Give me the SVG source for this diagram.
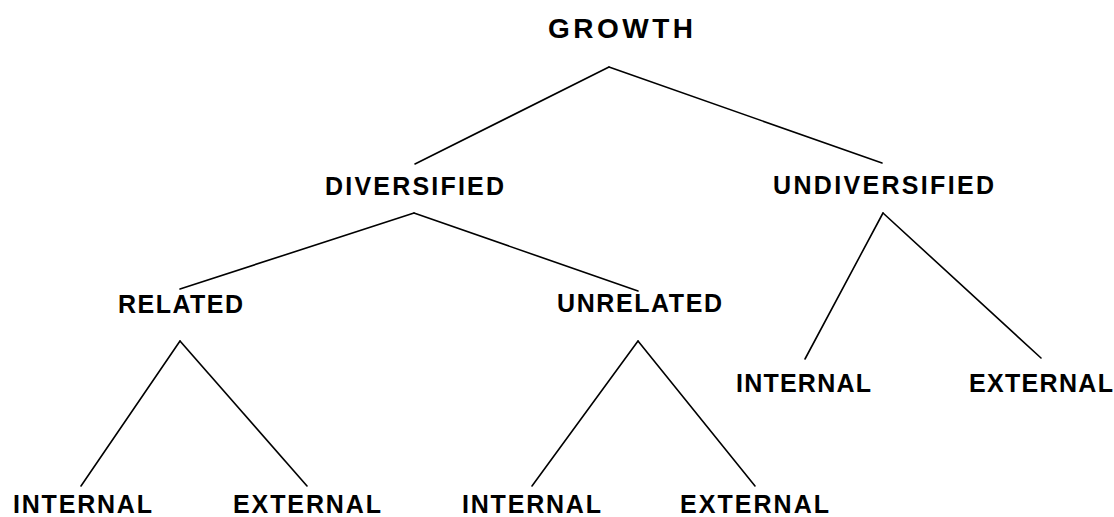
<svg xmlns="http://www.w3.org/2000/svg" width="1114" height="517" viewBox="0 0 1114 517">
<style>
.lbl{font-family:"Liberation Sans",Arial,Helvetica,sans-serif;font-size:25px;font-weight:bold;fill:#000}
.big{font-size:28px}
.edge{stroke:#000;stroke-width:1.6;fill:none;stroke-linecap:round}
</style>
<rect width="1114" height="517" fill="#fff"/>
<g id="connectors">
<line class="edge" x1="609" y1="67" x2="415" y2="164"/>
<line class="edge" x1="609" y1="67" x2="882" y2="163"/>
<line class="edge" x1="414" y1="213" x2="180" y2="289"/>
<line class="edge" x1="414" y1="213" x2="638" y2="291"/>
<line class="edge" x1="883" y1="213" x2="805" y2="359"/>
<line class="edge" x1="883" y1="213" x2="1041" y2="358"/>
<line class="edge" x1="180" y1="341" x2="81" y2="486"/>
<line class="edge" x1="180" y1="341" x2="307" y2="486"/>
<line class="edge" x1="638" y1="341" x2="532" y2="486"/>
<line class="edge" x1="638" y1="341" x2="755" y2="486"/>
</g>
<g id="growth"><text class="lbl big" x="548" y="38" textLength="145" lengthAdjust="spacing">GROWTH</text></g>
<g id="diversified"><text class="lbl" x="325" y="195" textLength="179" lengthAdjust="spacing">DIVERSIFIED</text></g>
<g id="undiversified"><text class="lbl" x="773" y="194" textLength="221" lengthAdjust="spacing">UNDIVERSIFIED</text></g>
<g id="related"><text class="lbl" x="118" y="313" textLength="125" lengthAdjust="spacing">RELATED</text></g>
<g id="unrelated"><text class="lbl" x="557" y="312" textLength="165" lengthAdjust="spacing">UNRELATED</text></g>
<g id="undiv-internal"><text class="lbl" x="736" y="392" textLength="135" lengthAdjust="spacing">INTERNAL</text></g>
<g id="undiv-external"><text class="lbl" x="969" y="392" textLength="144" lengthAdjust="spacing">EXTERNAL</text></g>
<g id="rel-internal"><text class="lbl" x="13" y="513" textLength="139" lengthAdjust="spacing">INTERNAL</text></g>
<g id="rel-external"><text class="lbl" x="233" y="513" textLength="148" lengthAdjust="spacing">EXTERNAL</text></g>
<g id="unrel-internal"><text class="lbl" x="462" y="513" textLength="139" lengthAdjust="spacing">INTERNAL</text></g>
<g id="unrel-external"><text class="lbl" x="680" y="513" textLength="149" lengthAdjust="spacing">EXTERNAL</text></g>
</svg>
